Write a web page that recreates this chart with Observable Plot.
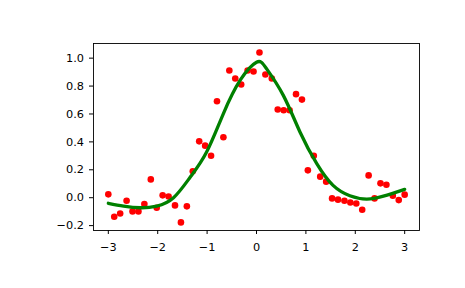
<!DOCTYPE html>
<html>
<head>
<meta charset="utf-8">
<script src="https://cdn.jsdelivr.net/npm/d3@7"></script>
<script src="https://cdn.jsdelivr.net/npm/@observablehq/plot@0.6"></script>
<style>
  html, body { margin: 0; padding: 0; background: #fff; }
  #chart svg { display: block; }
</style>
</head>
<body>
<div id="chart"></div>
<script>
const pointX = [-3.00,-2.88,-2.76,-2.63,-2.51,-2.39,-2.27,-2.14,-2.02,-1.90,
  -1.78,-1.65,-1.53,-1.41,-1.29,-1.16,-1.04,-0.92,-0.80,-0.67,
  -0.55,-0.43,-0.31,-0.18,-0.06,0.06,0.18,0.31,0.43,0.55,
  0.67,0.80,0.92,1.04,1.16,1.29,1.41,1.53,1.65,1.78,
  1.90,2.02,2.14,2.27,2.39,2.51,2.63,2.76,2.88,3.00];
const pointY = [0.024,-0.136,-0.113,-0.022,-0.098,-0.098,-0.046,0.131,-0.072,0.017,
  0.009,-0.055,-0.177,-0.062,0.189,0.404,0.373,0.301,0.691,0.433,
  0.912,0.854,0.811,0.912,0.904,1.041,0.883,0.854,0.632,0.627,
  0.627,0.742,0.703,0.196,0.301,0.151,0.115,-0.005,-0.014,-0.022,
  -0.034,-0.041,-0.086,0.160,-0.005,0.103,0.093,0.014,-0.017,0.022];
const curveX = [-3,-2.69,-2.35,-2.02,-1.68,-1.34,-1.01,-0.67,-0.33,0,0.2,0.54,0.88,1.22,1.55,1.89,2.23,2.57,3];
const curveY = [-0.04,-0.06,-0.072,-0.06,0.0,0.148,0.327,0.603,0.842,0.971,0.926,0.735,0.471,0.244,0.088,0.014,-0.01,0.011,0.06];
const xTicks = [-3,-2,-1,0,1,2,3];
const yTicks = [-0.2,0,0.2,0.4,0.6,0.8,1.0];

const points = pointX.map((x, i) => ({x, y: pointY[i]}));
const curve = curveX.map((x, i) => ({x, y: curveY[i]}));

const chart = Plot.plot({
  width: 465,
  height: 288,
  marginLeft: 93,
  marginRight: 46,
  marginTop: 43,
  marginBottom: 58,
  style: {fontFamily: "DejaVu Sans", fontSize: "11.3px", color: "black", background: "white"},
  x: {domain: [-3.3, 3.3]},
  y: {domain: [-0.235, 1.105]},
  marks: [
    Plot.dot(points, {x: "x", y: "y", r: 3.3, fill: "#ff0000", stroke: "none"}),
    Plot.line(curve, {x: "x", y: "y", curve: "natural", stroke: "#008000", strokeWidth: 3.3}),
    Plot.frame({stroke: "black", strokeWidth: 0.9}),
    Plot.axisX({ticks: xTicks, tickFormat: d3.format("d"), tickSize: 4, tickPadding: 8, label: null}),
    Plot.axisY({ticks: yTicks, tickFormat: d3.format(".1f"), tickSize: 4, tickPadding: 5.5, label: null})
  ]
});
document.getElementById("chart").appendChild(chart);
</script>
</body>
</html>
